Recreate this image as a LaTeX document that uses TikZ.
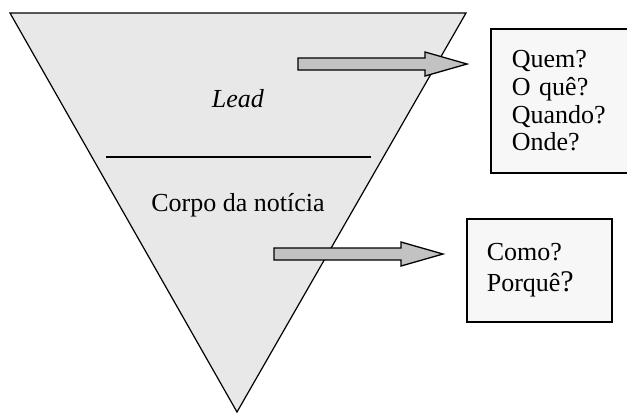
\documentclass[tikz,border=0pt]{standalone}
\usepackage{fontspec}
\setmainfont{Liberation Serif}
\usetikzlibrary{calc}

\definecolor{funnelgray}{gray}{0.91}
\definecolor{arrowgray}{gray}{0.76}
\definecolor{boxgray}{gray}{0.97}

\tikzset{
  funnel/.style={draw,fill=funnelgray,line width=1.2pt,line join=miter},
  answers/.style={draw,fill=boxgray,line width=1.6pt,anchor=north west,
    align=left,inner ysep=0pt},
  blockarrow/.style={draw,fill=arrowgray,line width=1.3pt,line join=miter},
  label/.style={anchor=base,inner sep=0pt},
}

\begin{document}
\begin{tikzpicture}[x=1pt,y=-1pt,font=\fontsize{26}{27.7}\selectfont]
  \useasboundingbox (0,0) rectangle (627,418);

  % the funnel
  \coordinate (topleft) at (10,13);
  \coordinate (topright) at (466,13);
  \coordinate (bottom) at (237,412);
  \draw[funnel] (topleft) -- (topright) -- (bottom) -- cycle;

  \coordinate (divleft) at (106,157);
  \coordinate (divright) at (371,157);
  \draw[line width=1.3pt] (divleft) -- (divright);

  \node[label] (lead) at (238,107) {\textit{Lead}};
  \node[label] (corpo) at (238,211) {Corpo da notícia};

  % question boxes
  \node[answers,minimum width=150pt,minimum height=144pt,
        text width=108pt,inner xsep=21pt] (quem) at (490,28)
        {Quem?\\O quê?\\Quando?\\Onde?};
  \node[answers,minimum width=145pt,minimum height=103pt,
        text width=105pt,inner xsep=20pt,
        font=\fontsize{26}{31}\selectfont] (como) at (466,218)
        {Como?\\Porquê{\fontsize{30}{30}\selectfont ?}};

  % block arrows
  \coordinate (leadtail) at (298,64);
  \coordinate (leadtip) at (467,64);
  \coordinate (corpotail) at (274,254);
  \coordinate (corpotip) at (443,254);

  \foreach \from/\to in {leadtail/leadtip,corpotail/corpotip}
    \draw[blockarrow] ($(\from)+(0,-6)$) -- ($(\to)+(-42,-6)$)
      -- ($(\to)+(-42,-12)$) -- (\to) -- ($(\to)+(-42,12)$)
      -- ($(\to)+(-42,6)$) -- ($(\from)+(0,6)$) -- cycle;
\end{tikzpicture}
\end{document}
